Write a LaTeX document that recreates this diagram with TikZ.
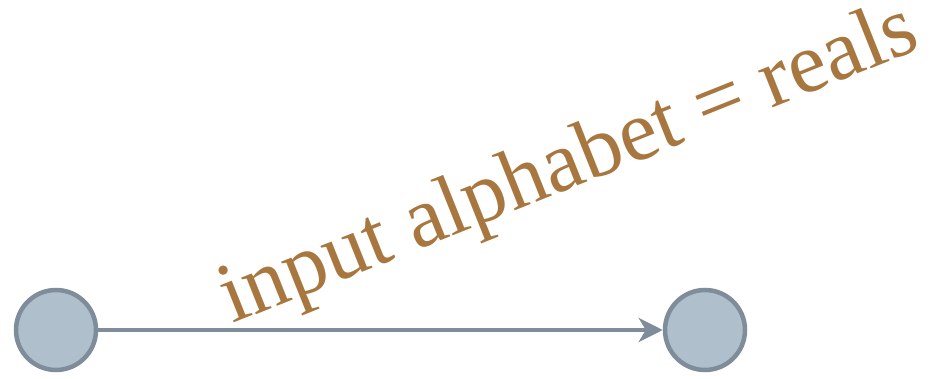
\documentclass[tikz,border=0pt]{standalone}
\usepackage{fontspec}
\setmainfont{Liberation Serif}
\usetikzlibrary{arrows.meta}
\definecolor{stbrown}{HTML}{A8773F}
\definecolor{stfill}{HTML}{B0BFCC}
\definecolor{stline}{HTML}{7F8C99}
\tikzset{
  state/.style={circle, draw=stline, fill=stfill, line width=4.5pt, minimum size=80pt, inner sep=0pt},
  trans/.style={draw=stline, line width=4pt, -{Stealth[length=24pt,width=24pt,inset=7pt]}},
  lab/.style={text=stbrown, font=\fontsize{86}{100}\selectfont, inner sep=0pt, rotate=21.8, anchor=base west}
}
\begin{document}
\begin{tikzpicture}[x=1pt,y=1pt]
\useasboundingbox (0,0) rectangle (930,378);
\node[state] (q0) at (56,48) {};
\node[state] (q1) at (705,48) {};
\draw[trans] (q0) -- (q1);
\node[lab] (t) at (232,54) {input alphabet = reals};
\end{tikzpicture}
\end{document}
